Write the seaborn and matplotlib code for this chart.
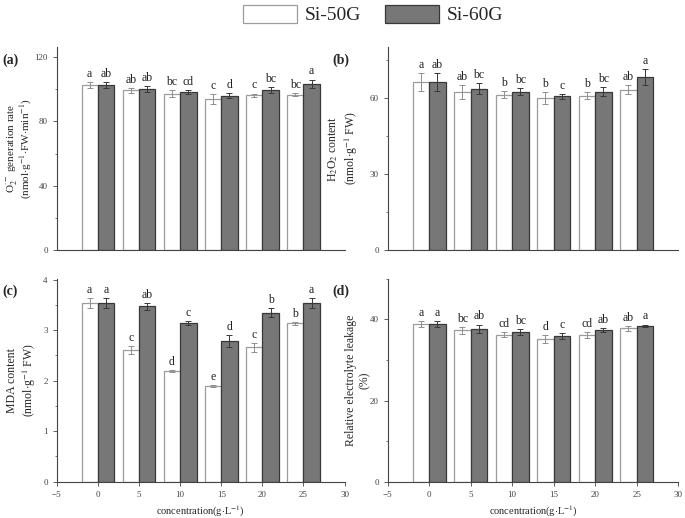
import matplotlib
matplotlib.use("Agg")
import matplotlib.pyplot as plt
import seaborn as sns
import pandas as pd
from matplotlib.patches import Patch
from matplotlib.ticker import MultipleLocator

# concentration levels (g/L)
conc = [0, 5, 10, 15, 20, 25]
groups = ["Si-50G", "Si-60G"]

# (a) O2- generation rate
o2_50 = [102.4, 99.3, 97.2, 93.7, 96.0, 96.6]
o2_50_err = [2.0, 1.5, 2.0, 3.0, 1.2, 1.2]
o2_60 = [102.4, 99.9, 98.1, 95.8, 99.3, 103.4]
o2_60_err = [2.0, 2.0, 1.0, 1.5, 2.0, 2.5]
o2_50_sig = ["a", "ab", "bc", "c", "c", "bc"]
o2_60_sig = ["ab", "ab", "cd", "d", "bc", "a"]

# (b) H2O2 content
h2o2_50 = [66.3, 62.4, 61.3, 60.0, 60.9, 63.3]
h2o2_50_err = [3.6, 2.8, 1.5, 2.3, 1.3, 1.7]
h2o2_60 = [66.3, 63.6, 62.5, 60.7, 62.4, 68.2]
h2o2_60_err = [3.6, 2.2, 1.5, 1.0, 1.7, 3.0]
h2o2_50_sig = ["a", "ab", "b", "b", "b", "ab"]
h2o2_60_sig = ["ab", "bc", "bc", "c", "bc", "a"]

# (c) MDA content
mda_50 = [3.54, 2.60, 2.19, 1.90, 2.66, 3.14]
mda_50_err = [0.10, 0.08, 0.02, 0.02, 0.09, 0.03]
mda_60 = [3.54, 3.47, 3.14, 2.79, 3.35, 3.53]
mda_60_err = [0.10, 0.07, 0.04, 0.12, 0.08, 0.10]
mda_50_sig = ["a", "c", "d", "e", "c", "b"]
mda_60_sig = ["a", "ab", "c", "d", "b", "a"]

# (d) relative electrolyte leakage
rel_50 = [38.8, 37.3, 36.2, 35.2, 36.2, 37.8]
rel_50_err = [0.7, 0.9, 0.6, 1.0, 0.7, 0.6]
rel_60 = [38.8, 37.7, 36.9, 35.9, 37.4, 38.4]
rel_60_err = [0.7, 1.0, 0.8, 0.8, 0.5, 0.3]
rel_50_sig = ["a", "bc", "cd", "d", "cd", "ab"]
rel_60_sig = ["a", "ab", "bc", "c", "ab", "a"]

fill = {"Si-50G": "white", "Si-60G": "#777777"}
edge = {"Si-50G": "#9c9c9c", "Si-60G": "#383838"}
err_col = {"Si-50G": "#8f8f8f", "Si-60G": "#383838"}

sns.set_style("ticks")
plt.rcParams["font.family"] = ["Liberation Serif", "DejaVu Serif"]
plt.rcParams["mathtext.fontset"] = "stix"
plt.rcParams["axes.edgecolor"] = "#444444"
plt.rcParams["xtick.color"] = "#444444"
plt.rcParams["ytick.color"] = "#444444"


def draw_panel(ax, v50, e50, v60, e60, s50, s60, ymax, major, tag, ylabel, label_x,
               show_x, label_size=8.5, label_spacing=1.2):
    df = pd.DataFrame({
        "conc": conc + conc,
        "value": v50 + v60,
        "group": [groups[0]] * len(conc) + [groups[1]] * len(conc),
    })
    sns.barplot(data=df, x="conc", y="value", hue="group", hue_order=groups,
                native_scale=True, palette=fill, saturation=1, errorbar=None,
                legend=False, width=0.8, ax=ax)
    errs = {groups[0]: e50, groups[1]: e60}
    sigs = {groups[0]: s50, groups[1]: s60}
    for g, cont in zip(groups, ax.containers):
        for bar, e, s in zip(cont, errs[g], sigs[g]):
            bar.set_edgecolor(edge[g])
            bar.set_linewidth(0.9)
            xc = bar.get_x() + bar.get_width() / 2
            h = bar.get_height()
            ax.errorbar(xc, h, yerr=e, color=err_col[g], capsize=2,
                        elinewidth=0.7, capthick=0.7)
            ax.annotate(s, (xc, h + e), xytext=(0, 1.5), textcoords="offset points",
                        ha="center", va="bottom", fontsize=8.5, color="#222222")
    ax.set_xlim(-5, 30)
    ax.set_ylim(0, ymax)
    ax.xaxis.set_major_locator(MultipleLocator(5))
    ax.yaxis.set_major_locator(MultipleLocator(major))
    ax.yaxis.set_minor_locator(MultipleLocator(major / 2))
    ax.tick_params(axis="both", which="major", length=3, width=0.6, labelsize=6.5)
    ax.tick_params(axis="y", which="minor", length=1.5, width=0.5)
    sns.despine(ax=ax)
    ax.set_ylabel(ylabel, fontsize=label_size, linespacing=label_spacing)
    ax.yaxis.set_label_coords(label_x, 0.5)
    if show_x:
        ax.set_xlabel(r"concentration(g$\cdot$L$^{-1}$)", fontsize=7.5)
    else:
        ax.set_xlabel("")
        ax.tick_params(axis="x", bottom=False, labelbottom=False)
    ax.text(-0.19, 0.97, tag, transform=ax.transAxes, fontsize=10,
            fontweight="bold", ha="left", va="top")


fig = plt.figure(figsize=(6.85, 5.18), dpi=100)
ax_a = fig.add_axes([0.083, 0.517, 0.420, 0.392])
ax_b = fig.add_axes([0.566, 0.517, 0.424, 0.392])
ax_c = fig.add_axes([0.083, 0.070, 0.420, 0.392])
ax_d = fig.add_axes([0.566, 0.070, 0.424, 0.392])

draw_panel(ax_a, o2_50, o2_50_err, o2_60, o2_60_err, o2_50_sig, o2_60_sig,
           126, 40, "(a)",
           "O$_2^{\\cdot-}$ generation rate\n(nmol$\\cdot$g$^{-1}$$\\cdot$FW$\\cdot$min$^{-1}$)",
           -0.08, False, label_size=8, label_spacing=0.95)
draw_panel(ax_b, h2o2_50, h2o2_50_err, h2o2_60, h2o2_60_err, h2o2_50_sig, h2o2_60_sig,
           80, 30, "(b)",
           "H$_2$O$_2$ content\n(nmol$\\cdot$g$^{-1}$ FW)", -0.097, False)
draw_panel(ax_c, mda_50, mda_50_err, mda_60, mda_60_err, mda_50_sig, mda_60_sig,
           4.02, 1, "(c)",
           "MDA content\n(nmol$\\cdot$g$^{-1}$ FW)", -0.066, True)
draw_panel(ax_d, rel_50, rel_50_err, rel_60, rel_60_err, rel_50_sig, rel_60_sig,
           50, 20, "(d)",
           "Relative electrolyte leakage\n(%)", -0.059, True)

handles = [Patch(facecolor=fill[g], edgecolor=edge[g], linewidth=0.9, label=g)
           for g in groups]
fig.legend(handles=handles, loc="center", bbox_to_anchor=(0.545, 0.972), ncol=2,
           frameon=False, fontsize=14, handlelength=2.8, handleheight=1.1,
           columnspacing=1.2, handletextpad=0.4)

fig.savefig("out.png", dpi=100)
